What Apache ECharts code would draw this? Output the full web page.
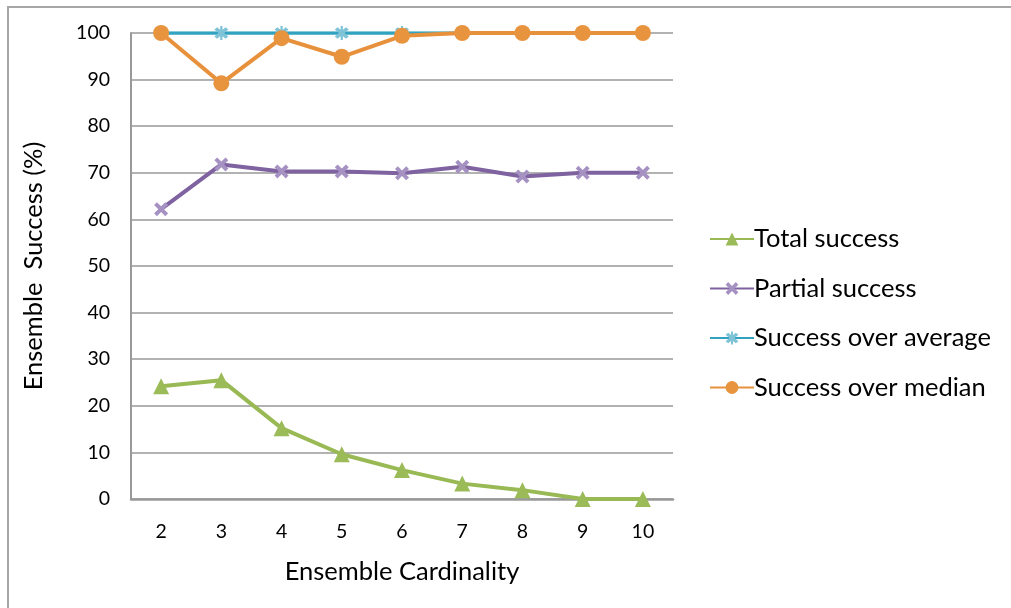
<!DOCTYPE html>
<html><head><meta charset="utf-8">
<script src="https://cdn.jsdelivr.net/npm/echarts@6/dist/echarts.min.js"></script>
<style>html,body{margin:0;padding:0;background:#fff}#c{width:1011px;height:608px}</style>
</head><body><div id="c"></div>
<script>
const categories = ['2','3','4','5','6','7','8','9','10'];
const totalSuccess = [24.2, 25.5, 15.2, 9.6, 6.2, 3.3, 1.9, 0, 0];
const partialSuccess = [62.2, 71.8, 70.3, 70.3, 69.9, 71.3, 69.2, 70, 70];
const successOverAverage = [100, 100, 100, 100, 100, 100, 100, 100, 100];
const successOverMedian = [100, 89.2, 98.9, 94.9, 99.4, 100, 100, 100, 100];
const yTicks = [0, 10, 20, 30, 40, 50, 60, 70, 80, 90, 100];

const FONT = 'Lato';
const xPath = 'path://M2,0 L5,3 L8,0 L10,2 L7,5 L10,8 L8,10 L5,7 L2,10 L0,8 L3,5 L0,2 Z';
const starPath = 'path://M2,0 L5,3 L8,0 L10,2 L7,5 L10,8 L8,10 L5,7 L2,10 L0,8 L3,5 L0,2 Z M4.2,-1 L5.8,-1 L5.8,11 L4.2,11 Z';

const chart = echarts.init(document.getElementById('c'));
chart.setOption({
  animation: false,
  backgroundColor: '#fff',
  graphic: [{
    type: 'rect', shape: {x: 8, y: 7, width: 1020, height: 620},
    style: {fill: 'none', stroke: '#a6a6a6', lineWidth: 2}, silent: true
  }],
  grid: {left: 131, right: 338, top: 33, bottom: 109, containLabel: false},
  xAxis: {
    type: 'category', data: categories, boundaryGap: true,
    name: 'Ensemble Cardinality', nameLocation: 'middle', nameGap: 60,
    nameTextStyle: {fontFamily: FONT, fontSize: 25.5, color: '#000'},
    axisLine: {lineStyle: {color: '#999', width: 2.5}},
    axisTick: {show: false},
    axisLabel: {fontFamily: FONT, fontSize: 19.5, color: '#000', margin: 23}
  },
  yAxis: {
    type: 'value', min: yTicks[0], max: yTicks[yTicks.length - 1], interval: 10,
    name: 'Ensemble  Success (%)', nameLocation: 'middle', nameGap: 84,
    nameTextStyle: {fontFamily: FONT, fontSize: 25.5, color: '#000'},
    axisLine: {show: true, lineStyle: {color: '#999', width: 2}},
    axisTick: {show: false},
    axisLabel: {fontFamily: FONT, fontSize: 19.5, color: '#000', margin: 21},
    splitLine: {lineStyle: {color: '#999', width: 1.5}}
  },
  legend: {
    orient: 'vertical', left: 704, top: 220, itemGap: 21.5,
    itemWidth: 44, itemHeight: 16,
    textStyle: {fontFamily: FONT, fontSize: 25.5, color: '#000', padding: [0, 0, 0, -5], lineHeight: 28},
    data: ['Total success', 'Partial success', 'Success over average', 'Success over median']
  },
  series: [
    {name: 'Total success', type: 'line', data: totalSuccess,
     lineStyle: {width: 4, color: '#98B954'}, symbol: 'triangle', symbolSize: 16,
     itemStyle: {color: '#9BBB59'}},
    {name: 'Partial success', type: 'line', data: partialSuccess,
     lineStyle: {width: 4, color: '#7F62A0'}, symbol: xPath, symbolSize: 14,
     itemStyle: {color: '#a592c2'}},
    {name: 'Success over average', type: 'line', data: successOverAverage,
     lineStyle: {width: 3.5, color: '#31A2C0'}, symbol: starPath, symbolSize: 14,
     itemStyle: {color: '#7fc3d6'}},
    {name: 'Success over median', type: 'line', data: successOverMedian,
     lineStyle: {width: 4, color: '#E8913C'}, symbol: 'circle', symbolSize: 16,
     itemStyle: {color: '#E8943F'}}
  ]
});
</script>
</body></html>
